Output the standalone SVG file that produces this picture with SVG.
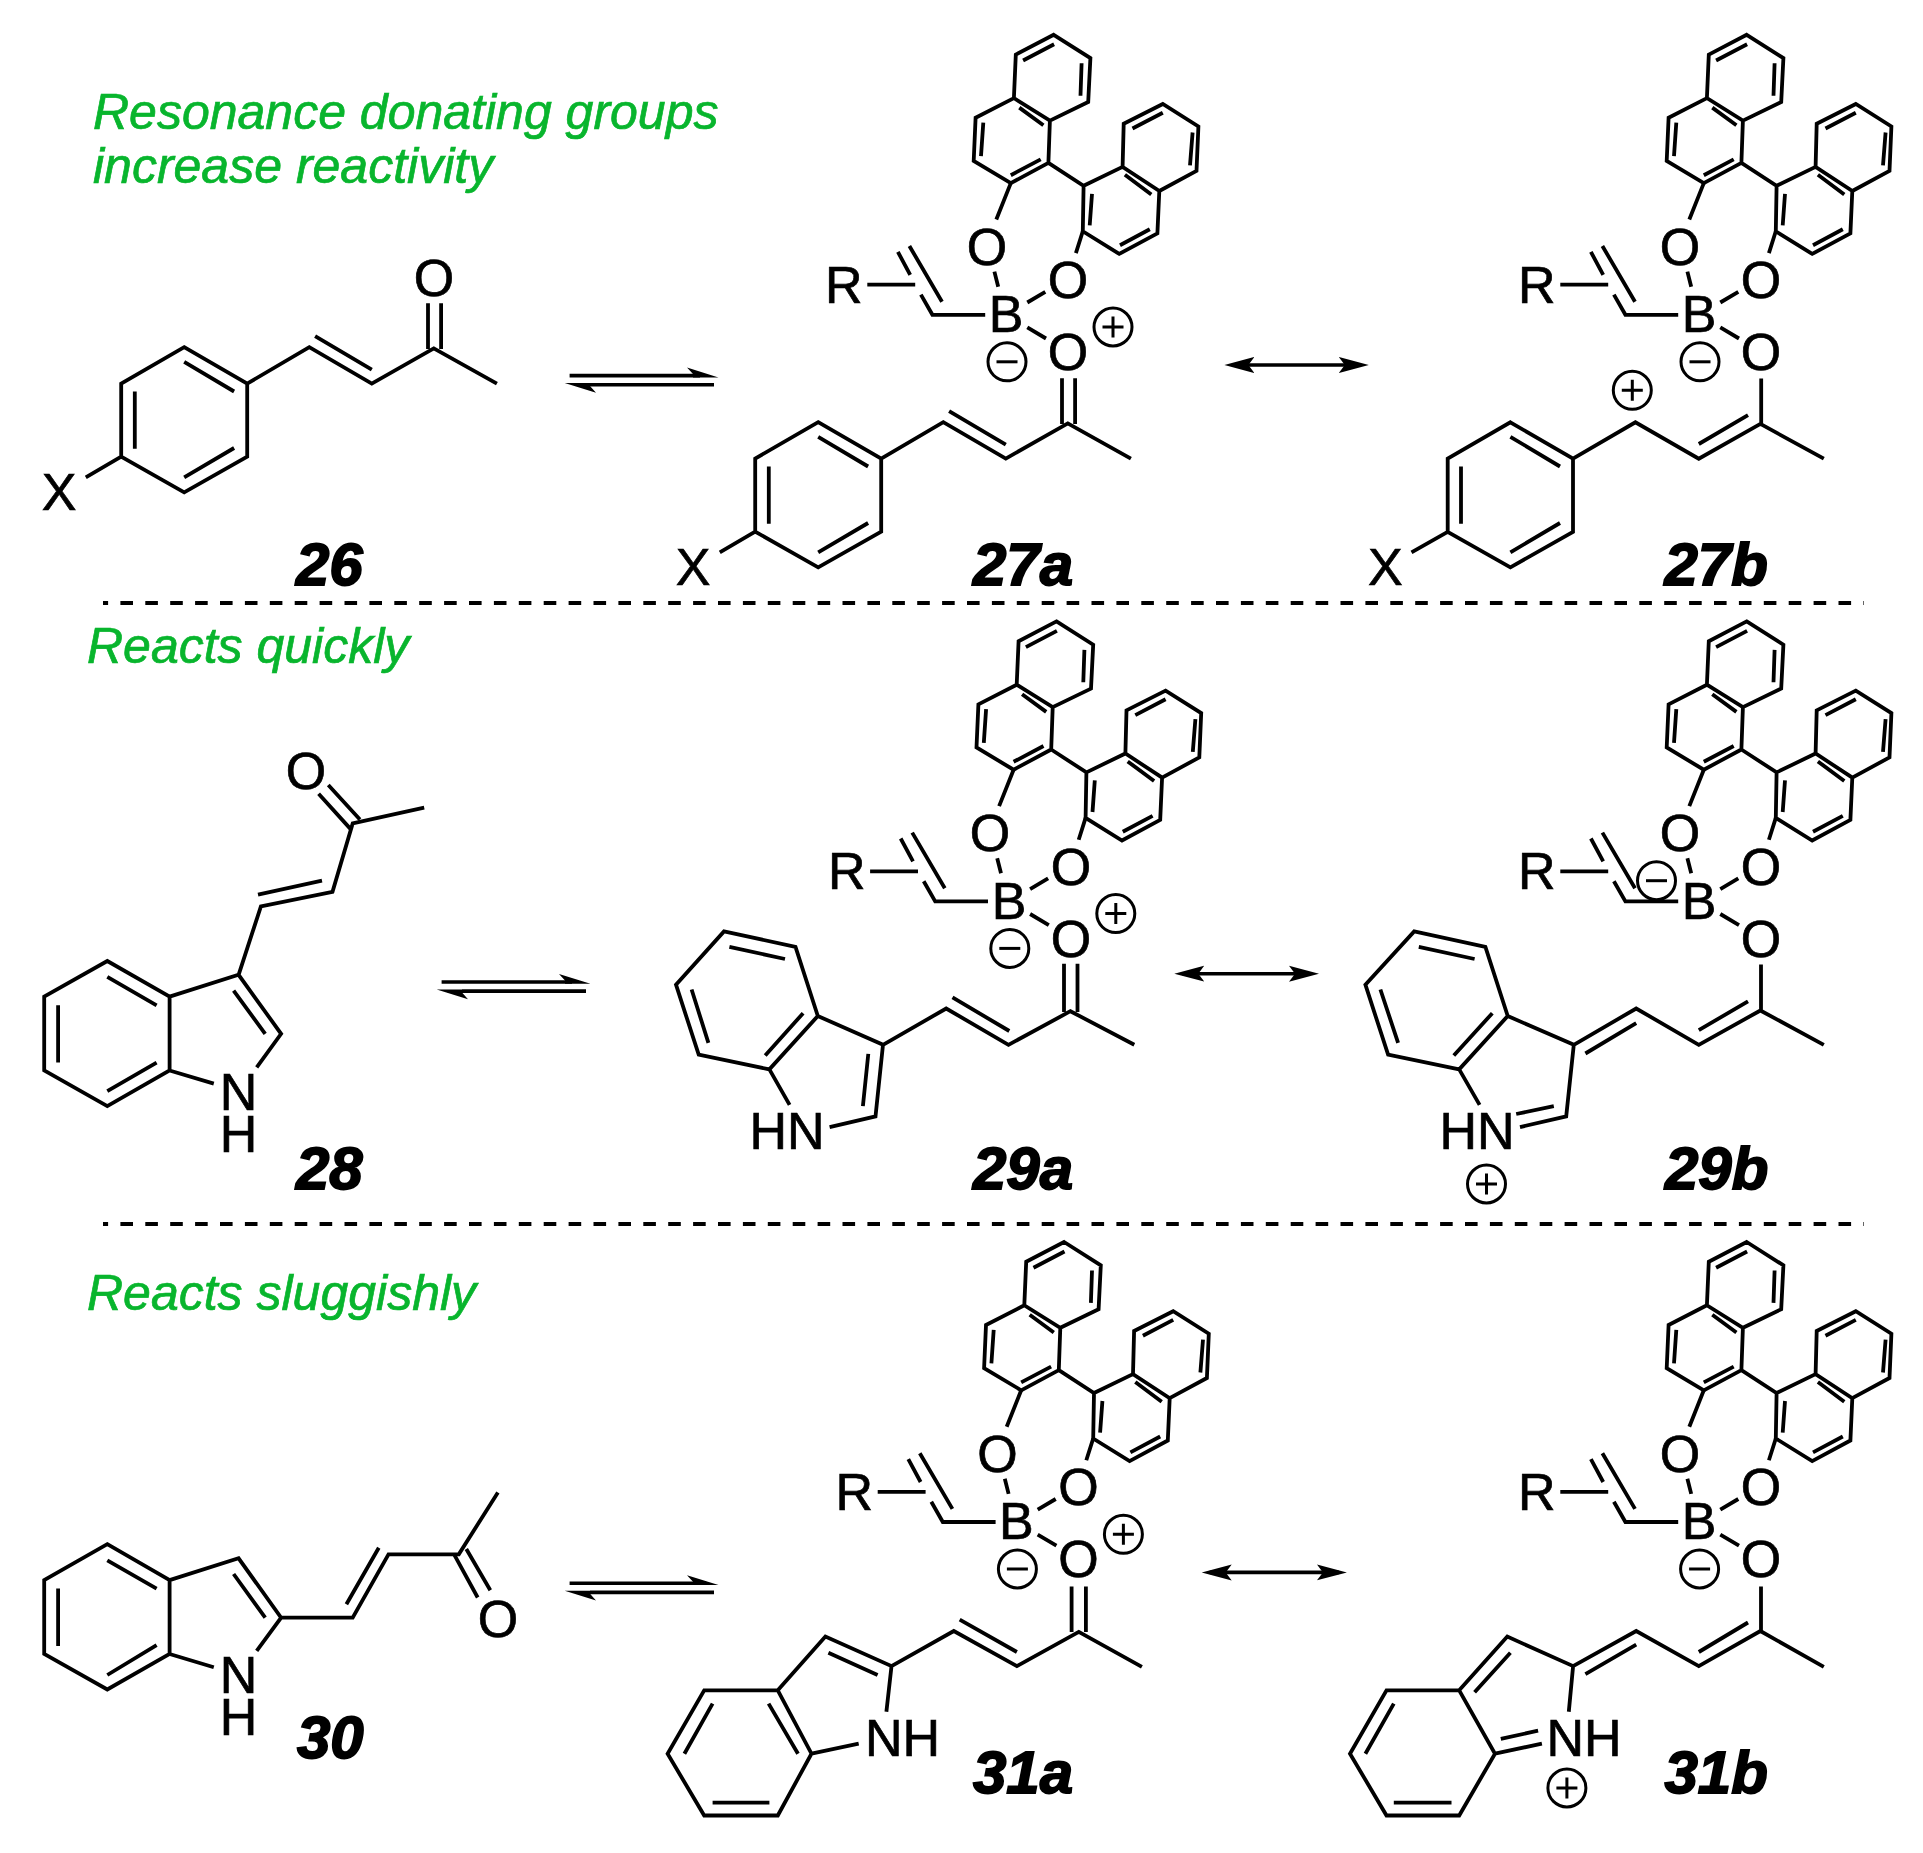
<svg xmlns="http://www.w3.org/2000/svg" xmlns:xlink="http://www.w3.org/1999/xlink" width="1923" height="1853" viewBox="0 0 1923 1853">
<style>
text{font-family:"Liberation Sans",Arial,sans-serif}
.b{fill:none;stroke:#000;stroke-width:3.8;stroke-linejoin:miter}
.a{font-size:52px;fill:#000;stroke:#000;stroke-width:.7;text-anchor:middle}
.s{font-size:52px;fill:#000;stroke:#000;stroke-width:.7}
.g{font-size:50px;font-style:italic;fill:#08b52d;stroke:#08b52d;stroke-width:.7}
.n{font-size:60px;font-weight:bold;font-style:italic;fill:#000;stroke:#000;stroke-width:1.8}
.d{fill:none;stroke:#000;stroke-width:3.8;stroke-dasharray:12.6 12.3;stroke-dashoffset:7.5}
.c{fill:none;stroke:#000;stroke-width:3}
.ar{fill:none;stroke:#000;stroke-width:3.6}
</style>
<defs>
<marker id="head" markerUnits="userSpaceOnUse" markerWidth="32" markerHeight="20" refX="22" refY="10" orient="auto-start-reverse"><path d="M30,10 L0,2 L6,10 L0,18 Z" fill="#000"/></marker>
<g id="binol">
<path class="b" d="M1053.7,34.8 L1090.4,58.1 L1088.2,102 L1049.9,120.6 L1013.9,98.1 L1015.8,54.6 Z M1013.9,98.1 L975.6,117.8 L973.7,160.9 L1010.8,183.1 L1048.4,162.9 L1049.9,120.6 M1048.4,162.9 L1083.6,185.8 L1122.6,166.9 L1159.3,191 L1157.4,233.3 L1119.2,253.9 L1082.8,231.3 L1083.6,185.8 M1122.6,166.9 L1123.7,123.8 L1162.8,104 L1198.4,126.5 L1196.5,170.8 L1159.3,191"/>
<path class="b" d="M1023.1,60.5 L1054.1,44.3 M1081.6,63.3 L1080.5,95.7 M1019.3,107.6 L1043.4,125.3 M983.3,122.6 L981,156.2 M1010.8,175.2 L1040.7,159.4 M1132.5,128.5 L1162.8,112.7 M1192.6,132.5 L1190,165.3 M1124.9,174.8 L1151.3,194.5 M1120,245.2 L1149.8,229.3 M1092,193.8 L1089.7,225.4"/>
<path class="b" d="M1010.8,183.1 L996.3,219.5 M1082.8,231.3 L1075.9,253.1 M994.4,271.6 L998.2,286.7 M1045.3,291.8 L1027.3,302.5 M1027.3,327.4 L1046,338.5 M985.2,314.8 L932.4,314.8 L920.9,294.6 M942,301.7 L909.4,246 M910.2,274.8 L897.9,251.9 M867.3,284.7 L915.2,284.7"/>
</g>
<g id="minus"><circle class="c" r="19"/><path class="c" d="M-10.5,0 H10.5"/></g>
<g id="plus"><circle class="c" r="19"/><path class="c" d="M-10.5,0 H10.5 M0,-10.5 V10.5"/></g>
<g id="arylenone">
<path class="b" d="M184.2,347.2 L247.2,383.6 L247.2,456.7 L184.2,492.3 L121.2,456.7 L121.2,383.6 Z M247.2,383.6 L309.3,347.2 L371.8,383.6 L433.8,348.4 L496.9,383.6 M85.8,477.3 L121.2,456.7"/>
<path class="b" d="M184.2,361.8 L234.1,391.5 M134.8,391.5 L134.8,448.8 M184.2,477.3 L234.1,448 M315.1,336.1 L371.8,369.7 M428,349 L428,303.3 M441.1,349 L441.1,303.3"/>
</g>
<g id="eq">
<path class="ar" d="M569.6,375.6 H700 M590,384.7 H714"/>
<path d="M718.5,377.4 L687,367.5 L693,374 L693,377.4 Z M564.7,383 L596,392.8 L590,386 L590,383 Z" fill="#000"/>
</g>
</defs>

<g id="headings">
<text class="g" x="93" y="129.3">Resonance donating groups</text>
<text class="g" x="93" y="182.7">increase reactivity</text>
<text class="g" x="87" y="662.5">Reacts quickly</text>
<text class="g" x="87" y="1309.6">Reacts sluggishly</text>
</g>

<g id="dividers">
<line class="d" x1="103" y1="603" x2="1864" y2="603"/>
<line class="d" x1="103" y1="1224" x2="1864" y2="1224"/>
</g>

<g id="connectors">
<use href="#eq"/>
<use href="#eq" transform="translate(-128,606.4)"/>
<use href="#eq" transform="translate(0,1207.7)"/>
<line class="ar" x1="1232.4" y1="365" x2="1360.8" y2="365" marker-start="url(#head)" marker-end="url(#head)"/>
<line class="ar" x1="1182.3" y1="973.7" x2="1311" y2="973.7" marker-start="url(#head)" marker-end="url(#head)"/>
<line class="ar" x1="1209.7" y1="1572.4" x2="1338.9" y2="1572.4" marker-start="url(#head)" marker-end="url(#head)"/>
</g>

<g id="c26">
<use href="#arylenone"/>
<text class="a" x="434" y="295.5">O</text>
<text class="a" x="59" y="510">X</text>
<text class="n" x="296" y="585">26</text>
</g>

<g id="c27a">
<use href="#arylenone" transform="translate(634,75)"/>
<use href="#binol"/>
<text class="a" x="987" y="264.5">O</text><text class="a" x="1068" y="298">O</text><text class="a" x="1006" y="332">B</text><text class="a" x="1068" y="370">O</text><text class="s" x="825" y="302.5">R</text>
<use href="#minus" x="1007" y="361.8"/><use href="#plus" x="1113" y="327"/>
<text class="a" x="693" y="585">X</text>
<text class="n" x="973" y="585">27a</text>
</g>

<g id="c27b">
<use href="#binol" x="693"/>
<text class="a" x="1680" y="264.5">O</text><text class="a" x="1761" y="298">O</text><text class="a" x="1699" y="332">B</text><text class="a" x="1761" y="370">O</text><text class="s" x="1518" y="302.5">R</text>
<use href="#minus" x="1700" y="361.8"/><use href="#plus" x="1632.3" y="390.3"/>
<path class="b" d="M1510.4,422.3 L1573,458.7 L1573,531.8 L1510.4,567.3 L1447.7,531.8 L1447.7,458.7 Z M1573,458.7 L1635.4,422.3 L1698.8,458.7 L1760.4,423.9 L1823.8,458.7 M1761.2,378.4 L1761.2,424 M1411.5,552.4 L1447.7,531.8" />
<path class="b" d="M1510.4,436.8 L1560,466.5 M1461,466.5 L1461,523.8 M1510.4,552.3 L1560,523 M1698.8,444 L1748,415.2"/>
<text class="a" x="1385.4" y="585">X</text>
<text class="n" x="1664.5" y="585">27b</text>
</g>

<g id="c28">
<path class="b" d="M107.3,961 L169.6,996.6 L169.6,1070.5 L107.3,1106.1 L44.2,1070.5 L44.2,996.6 Z M169.6,996.6 L238.6,974.8 L281.1,1033.8 L256.7,1067.4 M169.6,1070.5 L213.8,1083.6 M238.6,974.8 L260.9,906.4 L332.5,891.8 L352.7,823.4 L424.2,807.6"/>
<path class="b" d="M107.3,976.8 L156.6,1005.3 M58.1,1005.3 L58.1,1062.6 M107.3,1091.1 L156.6,1062.6 M233.6,990.7 L265.2,1033.8 M258,894.6 L322,880.7 M359.9,819.5 L328.3,785 M350.2,828.6 L318.6,793.8"/>
<text class="a" x="306" y="789">O</text>
<text class="a"><tspan x="238.6" y="1110">N</tspan><tspan x="238.6" y="1151.6">H</tspan></text>
<text class="n" x="296" y="1189">28</text>
</g>

<g id="c29a">
<use href="#binol" transform="translate(2.8,586.6)"/>
<text class="a" x="990" y="851">O</text><text class="a" x="1071" y="884.5">O</text><text class="a" x="1009" y="918.5">B</text><text class="a" x="1071" y="956.5">O</text><text class="s" x="828" y="889">R</text>
<use href="#minus" x="1009.8" y="948.4"/><use href="#plus" x="1115.8" y="913.6"/>
<path class="b" d="M724,931.4 L795.5,946.8 L817.8,1016 L769.4,1069.4 L698.7,1054.7 L676,984.7 Z M817.8,1016 L883,1044.8 L875.5,1116.4 L829.6,1127.1 M769.4,1069.4 L789.6,1104.9 M883,1044.8 L946.2,1008.5 L1008.5,1044.8 L1070.4,1011.2 L1134.3,1044.8"/>
<path class="b" d="M729.4,946.8 L785,959 M691.6,989.5 L708.4,1042.9 M765.2,1055.5 L803.1,1013.2 M868.3,1053.9 L862.9,1106.1 M952.5,997.4 L1009.3,1031 M1064,1012 L1064,963.8 M1077.5,1012 L1077.5,963.8"/>
<text class="s" x="749.5" y="1148.8">HN</text>
<text class="n" x="973" y="1189">29a</text>
</g>

<g id="c29b">
<use href="#binol" transform="translate(693,586.6)"/>
<text class="a" x="1680" y="851">O</text><text class="a" x="1761" y="884.5">O</text><text class="a" x="1699" y="918.5">B</text><text class="a" x="1761" y="956.5">O</text><text class="s" x="1518" y="889">R</text>
<use href="#minus" x="1656.5" y="880.7"/><use href="#plus" x="1486.5" y="1184"/>
<path class="b" d="M1414.2,931.4 L1485.4,946.8 L1507.7,1016 L1459.2,1069.4 L1388.1,1054.7 L1365.4,984.7 Z M1507.7,1016 L1573.8,1044.8 L1566.2,1116.4 L1520,1127.1 M1459.2,1069.4 L1479.6,1104.9 M1573.8,1044.8 L1636.2,1008.5 L1698.8,1044.8 L1760.4,1010.5 L1823.8,1044.8 M1761,964.6 L1761,1010.5"/>
<path class="b" d="M1418.8,946.8 L1474.6,959 M1380.4,989.5 L1398.1,1042.9 M1453.8,1055.5 L1492.3,1013.2 M1516.2,1114 L1553.8,1106.1 M1585.4,1053.5 L1636.2,1023.1 M1698.8,1030.2 L1748,1001.3"/>
<text class="s" x="1439.5" y="1148.8">HN</text>
<text class="n" x="1665" y="1189">29b</text>
</g>

<g id="c30">
<path class="b" d="M107.3,1544.2 L169.6,1580.1 L169.6,1654 L107.3,1689.5 L44.2,1654 L44.2,1580.1 Z M169.6,1580.1 L238.6,1558.3 L281.1,1617.7 L256.7,1650.8 M169.6,1654 L213.8,1667.3 M281.1,1617.7 L352.7,1617.7 L388.5,1554.3 L458.8,1554.3 L497.9,1492.5"/>
<path class="b" d="M107.3,1560.3 L156.6,1588.6 M58.1,1588.6 L58.1,1645.9 M107.3,1675 L156.6,1645.1 M233.6,1574 L265.2,1617.7 M346.4,1604.3 L378.8,1547.8 M454.5,1555.1 L477.7,1597.5 M466.3,1549 L490.3,1590.2"/>
<text class="a" x="498" y="1636.6">O</text>
<text class="a"><tspan x="238.6" y="1693.2">N</tspan><tspan x="238.6" y="1735.1">H</tspan></text>
<text class="n" x="297" y="1757.8">30</text>
</g>

<g id="c31a">
<use href="#binol" transform="translate(10.4,1207.2)"/>
<text class="a" x="997.4" y="1471.7">O</text><text class="a" x="1078.4" y="1505.2">O</text><text class="a" x="1016.4" y="1539.2">B</text><text class="a" x="1078.4" y="1577.2">O</text><text class="s" x="835.4" y="1509.7">R</text>
<use href="#minus" x="1017.4" y="1569"/><use href="#plus" x="1123.4" y="1534.3"/>
<path class="b" d="M704.2,1690.3 L777.8,1690.3 L811.5,1753.7 L777.8,1815.5 L704.2,1815.5 L667.6,1753.7 Z M777.8,1690.3 L825.4,1636.6 L891.5,1666.1 L886.4,1711.7 M811.5,1753.7 L858.7,1743.6 M891.5,1666.1 L953.8,1631 L1016.9,1666.1 L1078.8,1631.8 L1141.9,1666.9"/>
<path class="b" d="M712.6,1703.6 L684.4,1753.7 M768.6,1703.6 L798,1753.7 M712.6,1802.6 L769.4,1802.6 M828.4,1652.8 L877.6,1675 M959.7,1619.7 L1016.9,1652 M1071.6,1632 L1071.6,1586.6 M1085.9,1632 L1085.9,1586.6"/>
<text class="s" x="865" y="1756.1">NH</text>
<text class="n" x="973" y="1792.5">31a</text>
</g>

<g id="c31b">
<use href="#binol" transform="translate(693,1207.2)"/>
<text class="a" x="1680" y="1471.7">O</text><text class="a" x="1761" y="1505.2">O</text><text class="a" x="1699" y="1539.2">B</text><text class="a" x="1761" y="1577.2">O</text><text class="s" x="1518" y="1509.7">R</text>
<use href="#minus" x="1699.6" y="1569"/><use href="#plus" x="1566.9" y="1788"/>
<path class="b" d="M1386.5,1690.3 L1459.2,1690.3 L1495,1753.7 L1459.2,1815.5 L1386.5,1815.5 L1350,1753.7 Z M1459.2,1690.3 L1507.3,1636.6 L1573.1,1666.1 L1568.8,1711.7 M1495,1753.7 L1541.9,1743.6 M1573.1,1666.1 L1636.2,1631 L1698.8,1666.1 L1760.4,1631 L1823.8,1666.9 M1761,1586.6 L1761,1631"/>
<path class="b" d="M1393.8,1703.6 L1365.4,1753.7 M1393.8,1802.6 L1451.5,1802.6 M1510.4,1652.8 L1474.6,1692.3 M1500.8,1738.8 L1538.1,1730.7 M1585.4,1674.2 L1636.2,1644.7 M1698.8,1652 L1748,1622.5"/>
<text class="s" x="1546.5" y="1756.1">NH</text>
<text class="n" x="1664.5" y="1792.5">31b</text>
</g>
</svg>
